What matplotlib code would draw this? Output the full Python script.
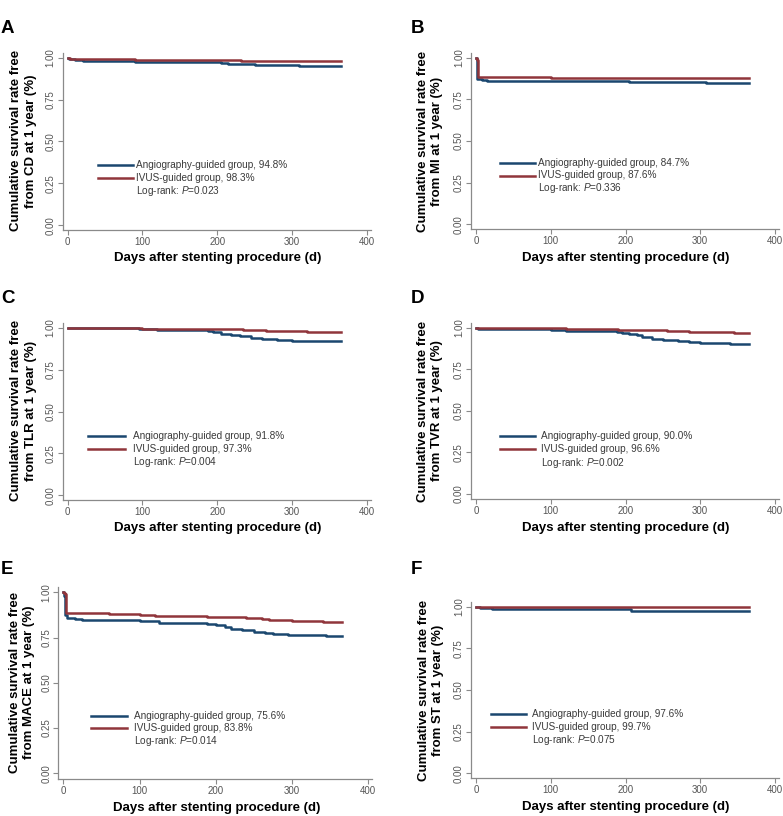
import matplotlib
matplotlib.use('Agg')
import matplotlib.pyplot as plt
from matplotlib.lines import Line2D

# Kaplan-Meier curves, 6 panels (Stata-like look)

plt.rcParams['font.family'] = 'Liberation Sans'
plt.rcParams['mathtext.fontset'] = 'custom'
plt.rcParams['mathtext.rm'] = 'Liberation Sans'
plt.rcParams['mathtext.it'] = 'Liberation Sans:italic'

panel_letters = ['A', 'B', 'C', 'D', 'E', 'F']
outcomes = ['CD', 'MI', 'TLR', 'TVR', 'MACE', 'ST']
angio_pct = ['94.8', '84.7', '91.8', '90.0', '75.6', '97.6']
ivus_pct = ['98.3', '87.6', '97.3', '96.6', '83.8', '99.7']
logrank_p = ['0.023', '0.336', '0.004', '0.002', '0.014', '0.075']

x_ticks = [0, 100, 200, 300, 400]
y_ticks = [0.00, 0.25, 0.50, 0.75, 1.00]

# step points (day, survival)
cd_angio_days = [0, 2, 5, 10, 20, 45, 90, 120, 205, 215, 250, 262, 310, 365]
cd_angio_surv = [1.0, 0.995, 0.99, 0.985, 0.98, 0.978, 0.975, 0.972, 0.967, 0.963, 0.958, 0.955, 0.948, 0.948]
cd_ivus_days = [0, 3, 8, 45, 90, 232, 365]
cd_ivus_surv = [1.0, 0.995, 0.993, 0.99, 0.987, 0.983, 0.983]

mi_angio_days = [0, 1, 2, 4, 8, 15, 30, 205, 215, 308, 365]
mi_angio_surv = [1.0, 0.98, 0.875, 0.87, 0.865, 0.862, 0.86, 0.855, 0.852, 0.847, 0.847]
mi_ivus_days = [0, 1, 2, 3, 100, 365]
mi_ivus_surv = [1.0, 0.995, 0.985, 0.882, 0.876, 0.876]

tlr_angio_days = [0, 5, 95, 120, 188, 195, 205, 218, 230, 245, 260, 280, 300, 340, 365]
tlr_angio_surv = [1.0, 0.997, 0.992, 0.988, 0.98, 0.972, 0.965, 0.955, 0.948, 0.94, 0.933, 0.927, 0.923, 0.918, 0.918]
tlr_ivus_days = [0, 88, 100, 190, 235, 265, 290, 320, 365]
tlr_ivus_surv = [1.0, 0.997, 0.994, 0.99, 0.986, 0.982, 0.978, 0.973, 0.973]

tvr_angio_days = [0, 3, 8, 100, 120, 188, 195, 205, 215, 222, 235, 250, 270, 285, 300, 340, 365]
tvr_angio_surv = [1.0, 0.995, 0.99, 0.985, 0.98, 0.975, 0.968, 0.963, 0.955, 0.945, 0.935, 0.927, 0.92, 0.912, 0.905, 0.9, 0.9]
tvr_ivus_days = [0, 5, 120, 190, 255, 285, 330, 345, 365]
tvr_ivus_surv = [1.0, 0.996, 0.992, 0.985, 0.98, 0.976, 0.972, 0.966, 0.966]

mace_angio_days = [0, 1, 2, 5, 15, 25, 100, 125, 188, 200, 212, 220, 235, 250, 265, 275, 295, 315, 345, 365]
mace_angio_surv = [1.0, 0.98, 0.875, 0.86, 0.852, 0.845, 0.84, 0.833, 0.825, 0.818, 0.808, 0.798, 0.79, 0.782,
                   0.776, 0.77, 0.765, 0.762, 0.757, 0.756]
mace_ivus_days = [0, 1, 2, 3, 60, 100, 120, 188, 240, 260, 270, 300, 340, 365]
mace_ivus_surv = [1.0, 0.995, 0.99, 0.885, 0.88, 0.875, 0.87, 0.862, 0.857, 0.852, 0.846, 0.842, 0.838, 0.838]

st_angio_days = [0, 5, 10, 22, 208, 365]
st_angio_surv = [1.0, 0.995, 0.99, 0.986, 0.977, 0.976]
st_ivus_days = [0, 102, 365]
st_ivus_surv = [1.0, 0.998, 0.997]

angio_curves = [(cd_angio_days, cd_angio_surv), (mi_angio_days, mi_angio_surv),
                 (tlr_angio_days, tlr_angio_surv), (tvr_angio_days, tvr_angio_surv),
                 (mace_angio_days, mace_angio_surv), (st_angio_days, st_angio_surv)]
ivus_curves = [(cd_ivus_days, cd_ivus_surv), (mi_ivus_days, mi_ivus_surv),
               (tlr_ivus_days, tlr_ivus_surv), (tvr_ivus_days, tvr_ivus_surv),
               (mace_ivus_days, mace_ivus_surv), (st_ivus_days, st_ivus_surv)]

W, H = 783, 816
NAVY = '#1a476f'
MAROON = '#90353b'
GREY = '#8a8a8a'
TICKC = '#555555'
TEXTC = '#3a3a3a'
XLIM = (-6.7, 405.4)
YLIM = (-0.03, 1.03)

# layout in pixels: x of day 0, x of day 400, y of 1.00, y of 0.00
ax_px = [(67.7, 366.7, 57.7, 225.3), (476, 775, 57.7, 224.3),
         (67.7, 366.7, 327.7, 495.3), (476, 775, 327.7, 494),
         (63.3, 368.3, 592.3, 773.3), (476, 775, 606.7, 773.3)]
letter_px = [(1, 33), (411, 33), (1, 303.3), (411, 303.3), (1, 574.3), (411, 574.3)]
ylab_px = [(23.5, 140.8), (430, 141.7), (23.5, 410.8), (430, 411), (21.7, 682.5), (430.8, 690.8)]
xlab_px = [(217.5, 258), (625.8, 258.3), (217.5, 528.3), (625.8, 528.3), (216.7, 808), (625.8, 806.7)]
# legend: line start, line end, text x, first row y, row step
leg_px = [(98, 133, 135.7, 165, 12.8), (500, 535, 537.7, 162.7, 12.8),
          (88.3, 125, 132.7, 435.7, 13.3), (500, 535, 541, 435.7, 13.5),
          (91, 126.7, 134.3, 716, 12.4), (490.7, 526, 532.3, 714.3, 12.9)]


def fx(px):
    return px / W


def fy(py):
    return 1 - py / H


fig = plt.figure(figsize=(W / 100, H / 100), dpi=100)

for i in range(6):
    x0, x400, y1, y0 = ax_px[i]
    sx = (x400 - x0) / 400
    sy = y0 - y1
    left = x0 + XLIM[0] * sx
    right = x0 + XLIM[1] * sx
    top = y0 - YLIM[1] * sy
    bottom = y0 - YLIM[0] * sy
    ax = fig.add_axes([left / W, 1 - bottom / H, (right - left) / W, (bottom - top) / H])

    ax.step(angio_curves[i][0], angio_curves[i][1], where='post', color=NAVY, linewidth=1.8)
    ax.step(ivus_curves[i][0], ivus_curves[i][1], where='post', color=MAROON, linewidth=1.8)

    ax.set_xlim(XLIM)
    ax.set_ylim(YLIM)
    ax.set_xticks(x_ticks)
    ax.set_yticks(y_ticks)
    ax.set_yticklabels(['%.2f' % v for v in y_ticks], rotation=90, va='center')
    for s in ['top', 'right']:
        ax.spines[s].set_visible(False)
    for s in ['left', 'bottom']:
        ax.spines[s].set_color(GREY)
        ax.spines[s].set_linewidth(0.9)
    ax.tick_params(colors=GREY, labelcolor=TICKC, labelsize=7, length=3.5, width=0.8)
    ax.tick_params(axis='x', pad=1.5)
    ax.tick_params(axis='y', pad=1.5)

    lx, ly = letter_px[i]
    fig.text(fx(lx), fy(ly), panel_letters[i], fontsize=13.5, fontweight='bold', va='baseline', ha='left')

    yx, yy = ylab_px[i]
    fig.text(fx(yx), fy(yy), 'Cumulative survival rate free\nfrom %s at 1 year (%%)' % outcomes[i],
             rotation=90, ha='center', va='center', multialignment='center',
             fontsize=9.5, fontweight='bold', linespacing=1.25)

    xx, xy = xlab_px[i]
    fig.text(fx(xx), fy(xy), 'Days after stenting procedure (d)', ha='center', va='center',
             fontsize=9.5, fontweight='bold')

    l1, l2, tx, ry, step = leg_px[i]
    labels = ['Angiography-guided group, %s%%' % angio_pct[i],
              'IVUS-guided group, %s%%' % ivus_pct[i],
              'Log-rank: $P$=%s' % logrank_p[i]]
    for k, col in enumerate([NAVY, MAROON]):
        yk = fy(ry + k * step)
        fig.add_artist(Line2D([fx(l1), fx(l2)], [yk, yk], color=col, linewidth=1.8,
                              transform=fig.transFigure))
    for k, lab in enumerate(labels):
        fig.text(fx(tx), fy(ry + k * step), lab, fontsize=7.2, color=TEXTC, ha='left', va='center')

fig.savefig('out.png', dpi=100)
